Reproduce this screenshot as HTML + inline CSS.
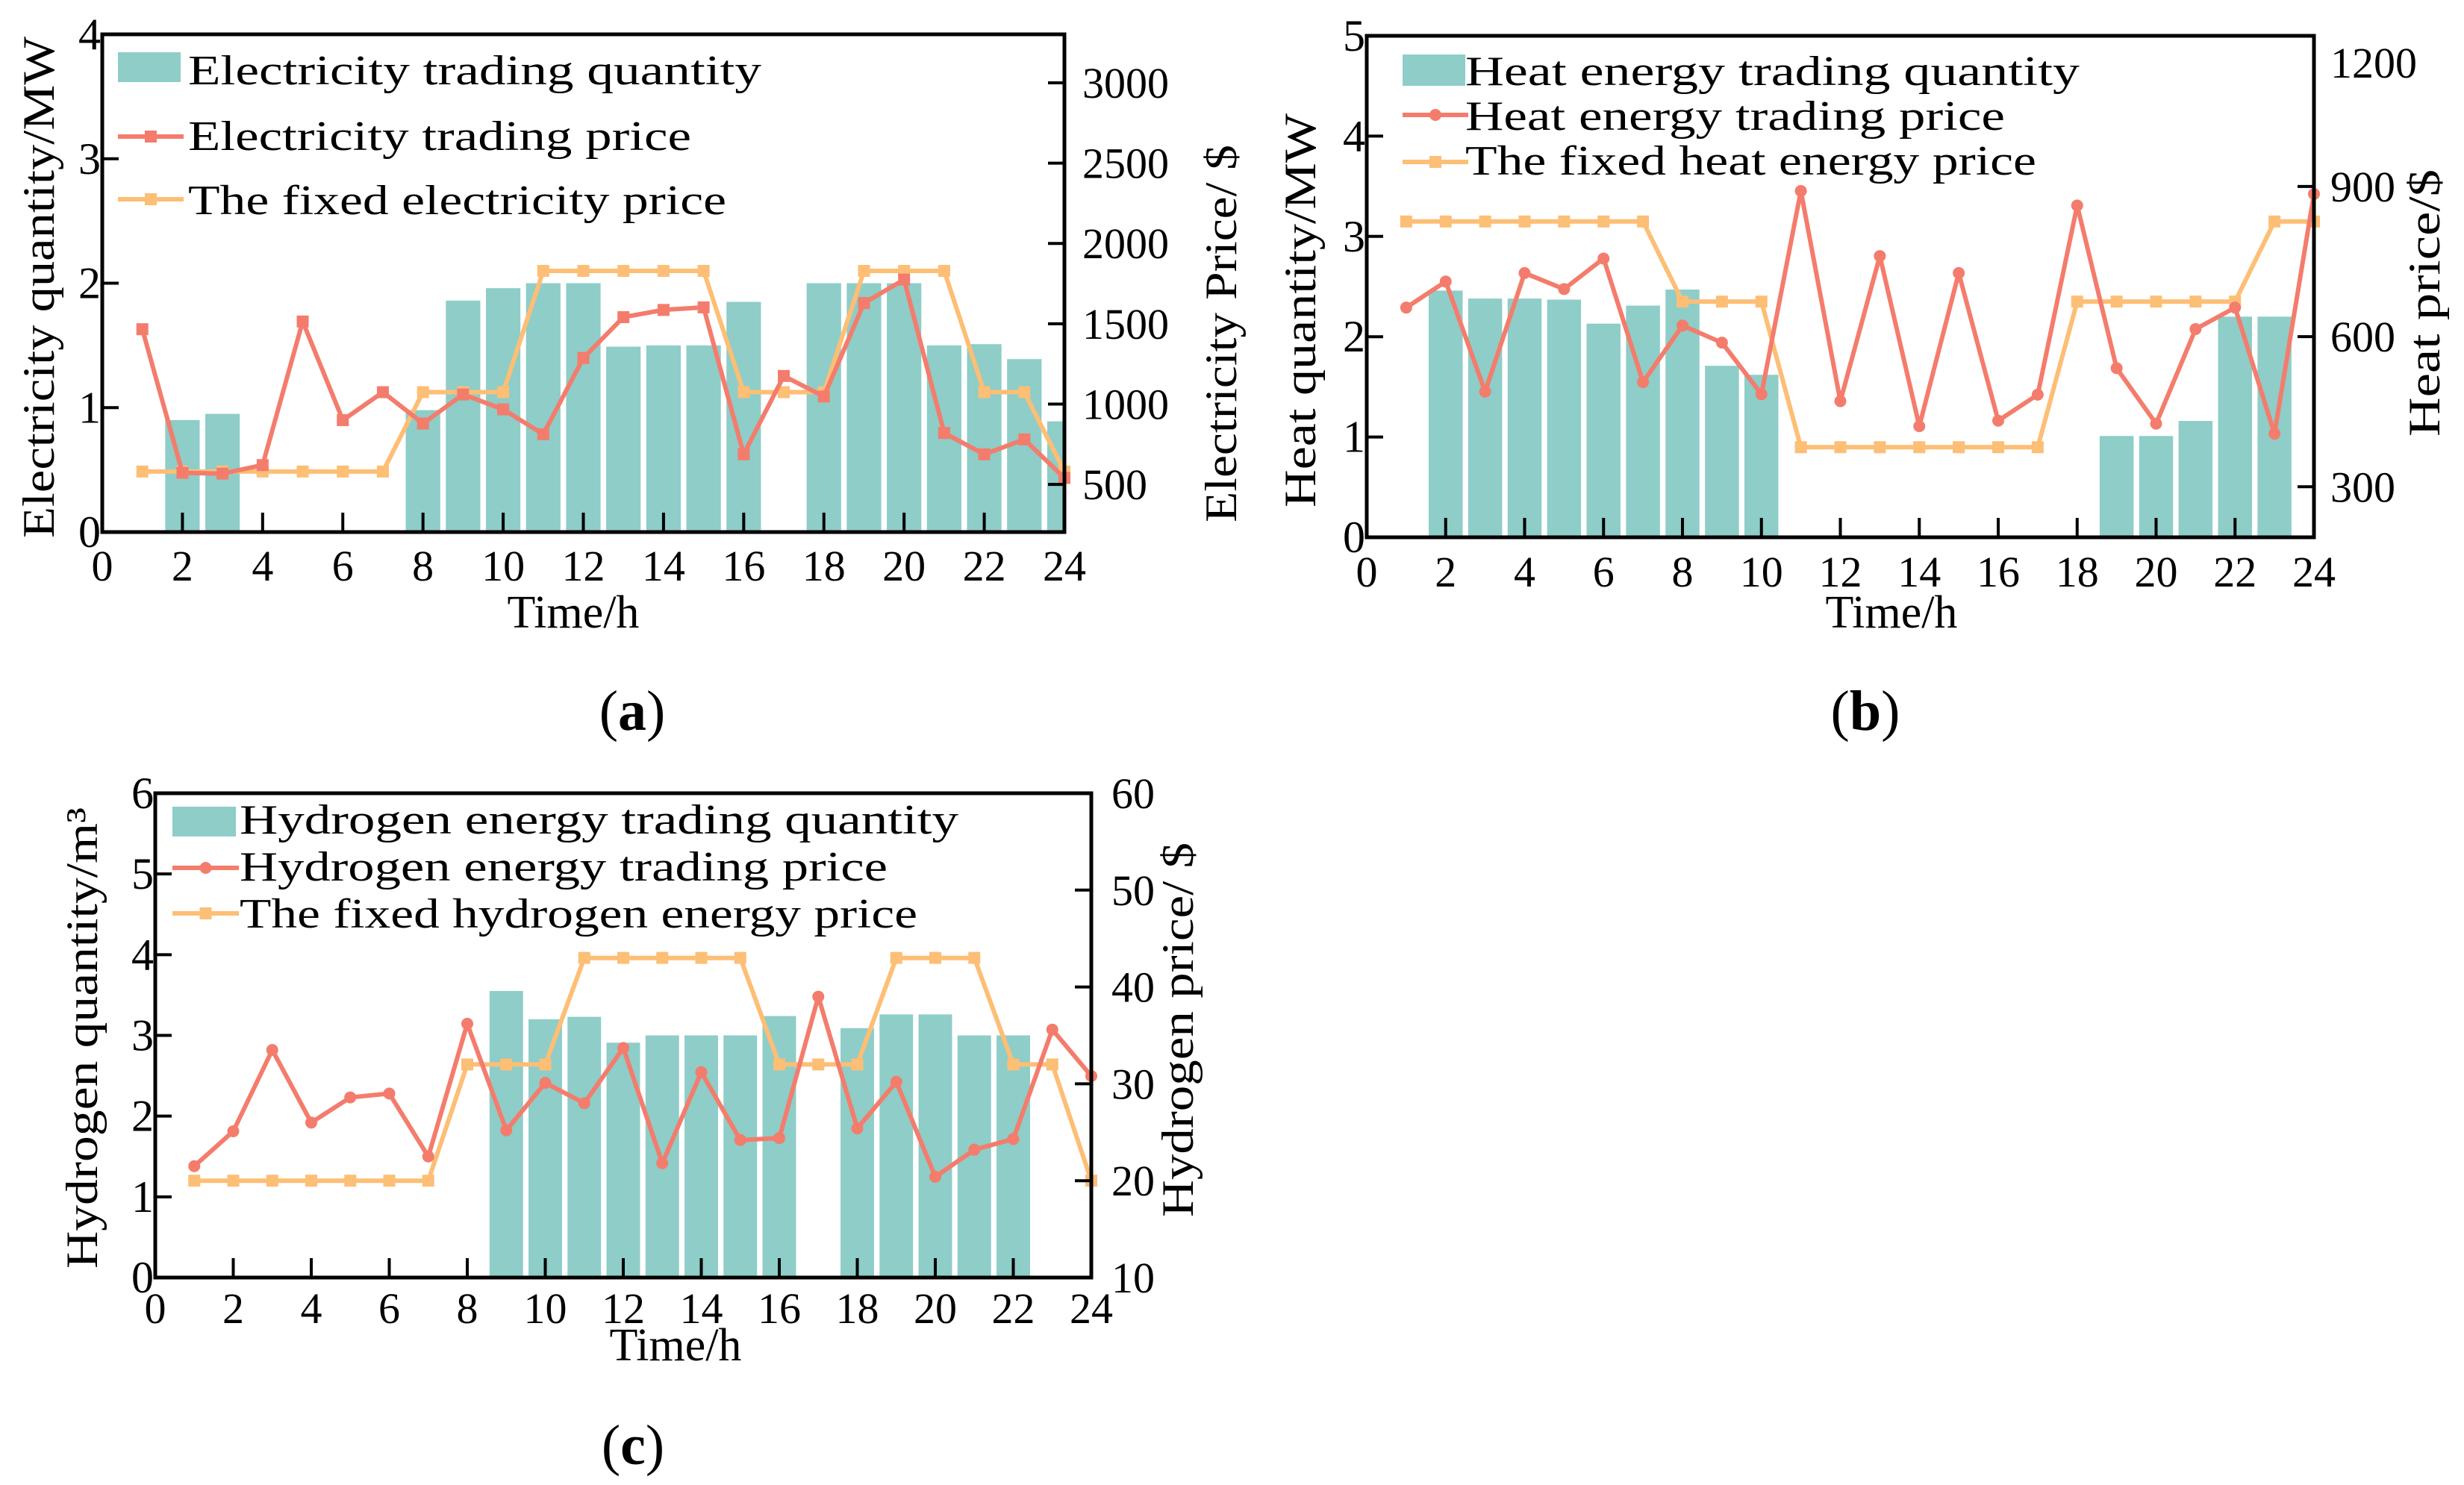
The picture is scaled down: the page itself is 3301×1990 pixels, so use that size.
<!DOCTYPE html>
<html><head><meta charset="utf-8"><style>
html,body{margin:0;padding:0;background:#fff}
svg{display:block}
text{font-family:"Liberation Serif",serif;fill:#000}
</style></head><body>
<svg id="fig" width="3301" height="1990" viewBox="0 0 3301 1990" xmlns="http://www.w3.org/2000/svg"></svg>
<script>
// ---- data ----
const hours = [1,2,3,4,5,6,7,8,9,10,11,12,13,14,15,16,17,18,19,20,21,22,23,24];
const xTicks = [0,2,4,6,8,10,12,14,16,18,20,22,24];
// (a) electricity
const elecQty = [0,0.9,0.95,0,0,0,0,0.98,1.86,1.96,2.0,2.0,1.49,1.5,1.5,1.85,0,2.0,2.0,2.0,1.5,1.51,1.39,0.89];
const elecPrice = [1466,572,567,620,1514,900,1074,879,1060,967,812,1287,1541,1586,1602,687,1175,1047,1629,1775,820,687,780,540];
const elecFixed = [580,580,580,580,580,580,580,1074,1074,1074,1829,1829,1829,1829,1829,1074,1074,1074,1829,1829,1829,1074,1074,580];
const elecLeftTicks = [0,1,2,3,4];
const elecRightTicks = [500,1000,1500,2000,2500,3000];
// (b) heat
const heatQty = [0,2.46,2.38,2.38,2.37,2.13,2.31,2.47,1.71,1.62,0,0,0,0,0,0,0,0,1.01,1.01,1.16,2.2,2.2,0];
const heatPrice = [658,710,490,727,695,756,509,622,588,485,891,471,761,421,727,432,484,862,537,426,615,658,406,885];
const heatFixed = [830,830,830,830,830,830,830,670,670,670,379,379,379,379,379,379,379,670,670,670,670,670,830,830];
const heatLeftTicks = [0,1,2,3,4,5];
const heatRightTicks = [300,600,900,1200];
// (c) hydrogen
const h2Qty = [0,0,0,0,0,0,0,0,3.55,3.2,3.23,2.91,3.0,3.0,3.0,3.24,0,3.09,3.26,3.26,3.0,3.0,0,0];
const h2Price = [21.5,25.1,33.5,26.0,28.6,29.0,22.5,36.2,25.2,30.1,28.0,33.7,21.8,31.2,24.2,24.4,39.0,25.4,30.2,20.4,23.2,24.3,35.6,30.8];
const h2Fixed = [20,20,20,20,20,20,20,32,32,32,43,43,43,43,43,32,32,32,43,43,43,32,32,20];
const h2LeftTicks = [0,1,2,3,4,5,6];
const h2RightTicks = [10,20,30,40,50,60];

const NS = "http://www.w3.org/2000/svg";
const svg = document.getElementById('fig');
const BAR = '#8ECDC8', RED = '#F47C6C', ORG = '#FDBE75';
function mk(tag, attrs, parent, txt){
  const e = document.createElementNS(NS, tag);
  for (const k in attrs) e.setAttribute(k, attrs[k]);
  if (txt !== undefined) e.textContent = txt;
  (parent||svg).appendChild(e);
  return e;
}
let clipId = 0;
function drawChart(c){
  const g = mk('g', {});
  
  
  const W = c.right - c.left, H = c.bottom - c.top;
  const xs = v => c.left + v/24*W;
  const yl = v => c.bottom - (v - c.lmin)/(c.lmax - c.lmin)*H;
  const yr = v => c.bottom - (v - c.rmin)/(c.rmax - c.rmin)*H;
  const cid = 'clip' + (clipId++);
  const cp = mk('clipPath', {id: cid}, g);
  mk('rect', {x: c.left, y: c.top, width: W, height: H}, cp);
  const bars = mk('g', {'clip-path': 'url(#' + cid + ')'}, g);
  const bw = W/24*0.86;
  c.qty.forEach((v, i) => {
    if (v <= 0) return;
    const r = mk('rect', {x: xs(hours[i]) - bw/2, y: yl(v), width: bw, height: yl(0) - yl(v), fill: BAR}, bars);
    
    
  });
  function series(vals, color, marker, nm){
    const pts = vals.map((v, i) => xs(hours[i]).toFixed(1) + ',' + yr(v).toFixed(1)).join(' ');
    const pl = mk('polyline', {points: pts, fill: 'none', stroke: color, 'stroke-width': 6, 'stroke-linejoin': 'round'}, g);
    
    
    vals.forEach((v, i) => {
      let m;
      if (marker === 'c') m = mk('circle', {cx: xs(hours[i]), cy: yr(v), r: 8, fill: color}, g);
      else m = mk('rect', {x: xs(hours[i]) - 8, y: yr(v) - 8, width: 16, height: 16, fill: color}, g);
      
      
    });
  }
  series(c.fixed, ORG, 's', 'fixed-price');
  series(c.price, RED, c.marker, 'trading-price');
  const fr = mk('rect', {x: c.left, y: c.top, width: W, height: H, fill: 'none', stroke: '#000', 'stroke-width': 5}, g);
  
  
  xTicks.forEach(t => {
    if (t > 0 && t < 24) mk('line', {x1: xs(t), x2: xs(t), y1: c.bottom, y2: c.bottom - 26, stroke: '#000', 'stroke-width': 4}, g);
    const tl = mk('text', {x: xs(t), y: c.xlabY, 'text-anchor': 'middle', 'font-size': 58}, g, String(t));
    
    
  });
  c.lt.forEach(t => {
    const y = yl(t);
    if (t > c.lmin && t < c.lmax) mk('line', {x1: c.left, x2: c.left + 22, y1: y, y2: y, stroke: '#000', 'stroke-width': 4}, g);
    const tl = mk('text', {x: c.left - 2, y: y + 20, 'text-anchor': 'end', 'font-size': 60}, g, String(t));
    
    
  });
  c.rt.forEach(t => {
    const y = yr(t);
    if (y > c.top + 2) mk('line', {x1: c.right, x2: c.right - 22, y1: y, y2: y, stroke: '#000', 'stroke-width': 4}, g);
    const ly = Math.max(y, c.top + (c.topLabOff || 0));
    const tl = mk('text', {x: c.rlabX, y: ly + 20, 'text-anchor': 'start', 'font-size': 58}, g, String(t));
    
    
  });
  const xt = mk('text', {x: c.xtX, y: c.xtY, 'text-anchor': 'middle', 'font-size': 62}, g, 'Time/h');
  
  
  const lt = mk('text', {x: 0, y: 0, 'text-anchor': 'middle', 'font-size': 60, transform: 'translate(' + c.ltX + ',' + c.ltY + ') rotate(-90)', textLength: c.ltLen, lengthAdjust: 'spacingAndGlyphs'}, g, c.ltText);
  
  
  const rtt = mk('text', {x: 0, y: 0, 'text-anchor': 'middle', 'font-size': 60, transform: 'translate(' + c.rtX + ',' + c.rtY + ') rotate(-90)', textLength: c.rtLen, lengthAdjust: 'spacingAndGlyphs'}, g, c.rtText);
  
  
  const L = c.leg;
  const lg = mk('g', {}, g);
  
  
  mk('rect', {x: L.px, y: L.py, width: L.pw, height: L.ph, fill: BAR}, lg);
  mk('line', {x1: L.px, x2: L.px + L.pw + 4, y1: L.l2, y2: L.l2, stroke: RED, 'stroke-width': 6}, lg);
  if (c.marker === 'c') mk('circle', {cx: L.px + (L.pw + 4)/2, cy: L.l2, r: 8, fill: RED}, lg);
  else mk('rect', {x: L.px + (L.pw + 4)/2 - 8, y: L.l2 - 8, width: 16, height: 16, fill: RED}, lg);
  mk('line', {x1: L.px, x2: L.px + L.pw + 4, y1: L.l3, y2: L.l3, stroke: ORG, 'stroke-width': 6}, lg);
  mk('rect', {x: L.px + (L.pw + 4)/2 - 8, y: L.l3 - 8, width: 16, height: 16, fill: ORG}, lg);
  L.texts.forEach((t, i) => {
    const e = mk('text', {x: L.tx, y: L.b[i], 'font-size': 56, textLength: L.len[i], lengthAdjust: 'spacingAndGlyphs'}, lg, t);
    
    
  });
  const cap = mk('text', {x: c.capX, y: c.capY, 'text-anchor': 'middle', 'font-size': 76}, g);
  
  
  mk('tspan', {}, cap, '(');
  mk('tspan', {'font-weight': 'bold'}, cap, c.cap);
  mk('tspan', {}, cap, ')');
}

drawChart({name:'chart-a-electricity', left:137, right:1426, top:46, bottom:713,
  lmin:0, lmax:4, rmin:203, rmax:3302, qty:elecQty, price:elecPrice, fixed:elecFixed, marker:'s',
  lt:elecLeftTicks, rt:elecRightTicks, xlabY:778, rlabX:1450,
  xtX:768, xtY:841, ltX:72, ltY:385, ltLen:672, ltText:'Electricity quantity/MW',
  rtX:1656, rtY:447, rtLen:506, rtText:'Electricity Price/ $',
  leg:{px:158, py:70, pw:84, ph:40, l2:183, l3:267, tx:252, b:[113,201,287], len:[768,674,721],
    texts:['Electricity trading quantity','Electricity trading price','The fixed electricity price']},
  capX:847, capY:978, cap:'a'});

drawChart({name:'chart-b-heat', left:1831, right:3100, top:48, bottom:720,
  lmin:0, lmax:5, rmin:199, rmax:1201, qty:heatQty, price:heatPrice, fixed:heatFixed, marker:'c',
  lt:heatLeftTicks, rt:heatRightTicks, xlabY:786, rlabX:3122, topLabOff:36,
  xtX:2534, xtY:841, ltX:1762, ltY:416, ltLen:528, ltText:'Heat quantity/MW',
  rtX:3268, rtY:406, rtLen:358, rtText:'Heat price/$',
  leg:{px:1879, py:73, pw:84, ph:42, l2:154, l3:217, tx:1963, b:[114,174,234], len:[823,723,765],
    texts:['Heat energy trading quantity','Heat energy trading price','The fixed heat energy price']},
  capX:2499, capY:978, cap:'b'});

drawChart({name:'chart-c-hydrogen', left:208, right:1462, top:1063, bottom:1712,
  lmin:0, lmax:6, rmin:10, rmax:60, qty:h2Qty, price:h2Price, fixed:h2Fixed, marker:'c',
  lt:h2LeftTicks, rt:h2RightTicks, xlabY:1773, rlabX:1489,
  xtX:905, xtY:1823, ltX:130, ltY:1391, ltLen:618, ltText:'Hydrogen quantity/m³',
  rtX:1598, rtY:1380, rtLen:502, rtText:'Hydrogen price/ $',
  leg:{px:231, py:1081, pw:85, ph:40, l2:1163, l3:1224, tx:321, b:[1117,1180,1243], len:[963,868,908],
    texts:['Hydrogen energy trading quantity','Hydrogen energy trading price','The fixed hydrogen energy price']},
  capX:848, capY:1962, cap:'c'});
</script>
</body></html>
